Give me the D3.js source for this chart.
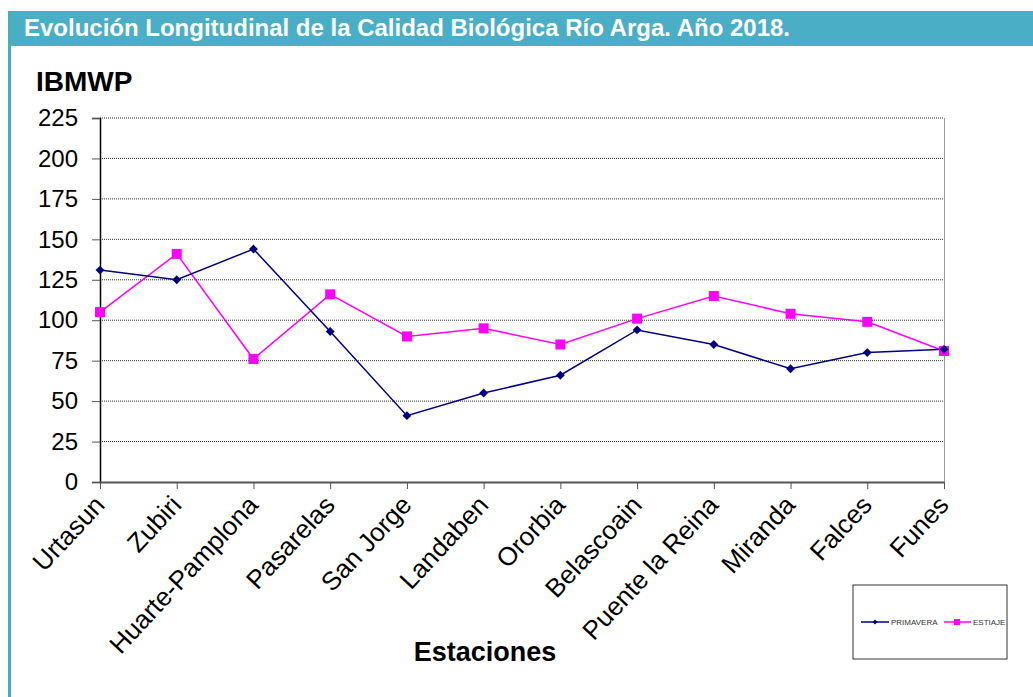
<!DOCTYPE html>
<html>
<head>
<meta charset="utf-8">
<script src="https://cdn.jsdelivr.net/npm/d3@7"></script>
<style>
  body { margin: 0; background: #fff; }
  svg { display: block; font-family: 'Liberation Sans', Arial, sans-serif; }
</style>
</head>
<body>
<script>
var estaciones = ['Urtasun', 'Zubiri', 'Huarte-Pamplona', 'Pasarelas', 'San Jorge', 'Landaben',
    'Ororbia', 'Belascoain', 'Puente la Reina', 'Miranda', 'Falces', 'Funes'];
var primavera = [131, 125, 144, 93, 41, 55, 66, 94, 85, 70, 80, 82];
var estiaje = [105, 141, 76, 116, 90, 95, 85, 101, 115, 104, 99, 81];
var yTicks = [0, 25, 50, 75, 100, 125, 150, 175, 200, 225];

var svgwidth = 1033, svgheight = 697,
    margin = { top: 118, left: 100, right: 89, bottom: 215 }; // plot area edges

var svg = d3.select('body').append('svg')
    .attr('width', svgwidth)
    .attr('height', svgheight);

// title bar and left border
svg.append('rect')
    .attr('x', 8).attr('y', 11)
    .attr('width', svgwidth - 8).attr('height', 35)
    .attr('fill', '#4aaec6');
svg.append('rect')
    .attr('x', 8).attr('y', 11)
    .attr('width', 3).attr('height', svgheight - 11)
    .attr('fill', '#47b0b6');
svg.append('text')
    .attr('x', 24).attr('y', 36)
    .attr('fill', '#fff')
    .attr('font-size', '23px')
    .attr('font-weight', 'bold')
    .attr('textLength', 766)
    .attr('lengthAdjust', 'spacingAndGlyphs')
    .text('Evolución Longitudinal de la Calidad Biológica Río Arga. Año 2018.');

var x = d3.scalePoint()
    .domain(estaciones)
    .range([margin.left, svgwidth - margin.right]);
var y = d3.scaleLinear()
    .domain([0, 225])
    .range([svgheight - margin.bottom, margin.top]);

// gridlines
svg.append('g').selectAll('line')
    .data(yTicks.filter(function (d) { return d > 0; }))
    .enter().append('line')
    .attr('x1', margin.left).attr('x2', svgwidth - margin.right)
    .attr('y1', function (d) { return y(d); })
    .attr('y2', function (d) { return y(d); })
    .attr('stroke', '#333')
    .attr('stroke-width', 1)
    .attr('stroke-dasharray', '1,1');

// plot right border
svg.append('line')
    .attr('x1', svgwidth - margin.right + 0.5).attr('x2', svgwidth - margin.right + 0.5)
    .attr('y1', margin.top).attr('y2', y(0))
    .attr('stroke', '#999');

// y axis
var yaxis = d3.axisLeft(y).tickValues(yTicks).tickSize(8).tickPadding(14);
var gy = svg.append('g')
    .attr('transform', 'translate(' + margin.left + ',0)')
    .call(yaxis);
gy.select('.domain').attr('stroke', '#000').attr('stroke-width', 1.5);
gy.selectAll('.tick line').attr('stroke', '#555');
gy.selectAll('text')
    .attr('font-size', '24px')
    .attr('font-family', 'Liberation Sans, Arial, sans-serif')
    .attr('fill', '#000');

// x axis
var xaxis = d3.axisBottom(x).tickSize(7).tickPadding(6).tickSizeOuter(0);
var gx = svg.append('g')
    .attr('transform', 'translate(0,' + y(0) + ')')
    .call(xaxis);
gx.select('.domain').attr('stroke', '#555').attr('stroke-width', 2);
gx.selectAll('.tick line').attr('stroke', '#555');
gx.selectAll('text')
    .attr('font-size', '26px')
    .attr('font-family', 'Liberation Sans, Arial, sans-serif')
    .attr('fill', '#000')
    .attr('text-anchor', 'end')
    .attr('dy', '0.35em')
    .attr('transform', 'translate(-1,18) rotate(-47)')
    .attr('y', 0);

// series
var line = d3.line()
    .x(function (d, i) { return x(estaciones[i]); })
    .y(function (d) { return y(d); });

svg.append('path')
    .datum(estiaje)
    .attr('d', line)
    .attr('fill', 'none')
    .attr('stroke', '#ff00ff')
    .attr('stroke-width', 1.5);
svg.append('path')
    .datum(primavera)
    .attr('d', line)
    .attr('fill', 'none')
    .attr('stroke', '#000080')
    .attr('stroke-width', 1.5);

svg.append('g').selectAll('rect')
    .data(estiaje)
    .enter().append('rect')
    .attr('x', function (d, i) { return x(estaciones[i]) - 5; })
    .attr('y', function (d) { return y(d) - 5; })
    .attr('width', 10).attr('height', 10)
    .attr('fill', '#ff00ff');

var diamond = d3.symbol().type(d3.symbolDiamond2).size(50);
svg.append('g').selectAll('path')
    .data(primavera)
    .enter().append('path')
    .attr('d', diamond)
    .attr('transform', function (d, i) { return 'translate(' + x(estaciones[i]) + ',' + y(d) + ')'; })
    .attr('fill', '#000080');

// axis titles
svg.append('text')
    .attr('x', 36).attr('y', 91)
    .attr('font-size', '28px')
    .attr('font-weight', 'bold')
    .text('IBMWP');
svg.append('text')
    .attr('x', 485).attr('y', 661)
    .attr('text-anchor', 'middle')
    .attr('font-size', '27px')
    .attr('font-weight', 'bold')
    .text('Estaciones');

// legend
var legend = svg.append('g').attr('transform', 'translate(853,585)');
legend.append('rect')
    .attr('width', 154).attr('height', 74)
    .attr('fill', '#fff')
    .attr('stroke', '#333')
    .attr('stroke-width', 1);
legend.append('line')
    .attr('x1', 8).attr('x2', 36).attr('y1', 37).attr('y2', 37)
    .attr('stroke', '#000080').attr('stroke-width', 1.5);
legend.append('path')
    .attr('d', d3.symbol().type(d3.symbolDiamond2).size(16))
    .attr('transform', 'translate(22,37)')
    .attr('fill', '#000080');
legend.append('text')
    .attr('x', 38).attr('y', 40)
    .attr('font-size', '8px')
    .attr('fill', '#333')
    .text('PRIMAVERA');
legend.append('line')
    .attr('x1', 91).attr('x2', 118).attr('y1', 37).attr('y2', 37)
    .attr('stroke', '#ff00ff').attr('stroke-width', 1.5);
legend.append('rect')
    .attr('x', 101).attr('y', 34).attr('width', 6).attr('height', 6)
    .attr('fill', '#ff00ff');
legend.append('text')
    .attr('x', 120).attr('y', 40)
    .attr('font-size', '8px')
    .attr('fill', '#333')
    .text('ESTIAJE');
</script>
</body>
</html>
